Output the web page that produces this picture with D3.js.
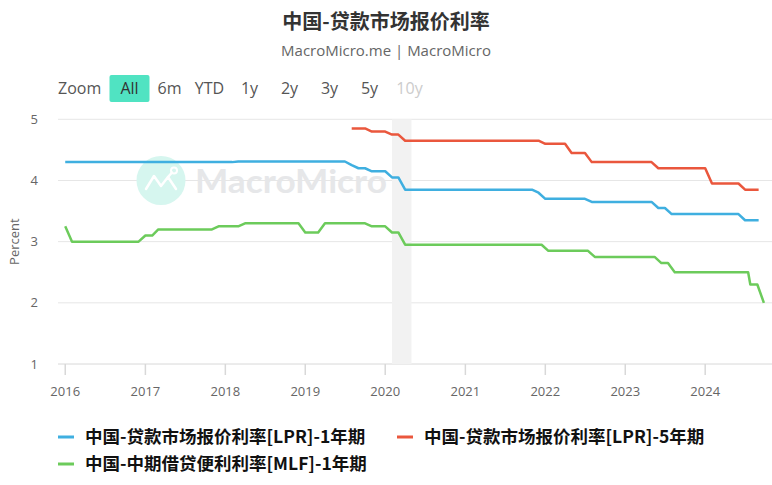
<!DOCTYPE html>
<html>
<head>
<meta charset="utf-8">
<script src="https://cdn.jsdelivr.net/npm/d3@7"></script>
<style>
  body { margin: 0; background: #fff; }
  text { font-family: "Open Sans", "Noto Sans CJK SC", sans-serif; }
</style>
</head>
<body>
<svg id="chart"></svg>
<script>
// LPR 1-year (monthly fixings, old LPR before Aug 2019)
const lpr1yDates = ["2016-01-01", "2018-02-01", "2018-03-01", "2019-07-01", "2019-08-01", "2019-09-01",
  "2019-10-01", "2019-11-01", "2020-01-01", "2020-02-01", "2020-03-01", "2020-04-01", "2021-11-01",
  "2021-12-01", "2022-01-01", "2022-07-01", "2022-08-01", "2023-05-01", "2023-06-01", "2023-07-01",
  "2023-08-01", "2024-06-01", "2024-07-01", "2024-09-01"];
const lpr1yValues = [4.30, 4.30, 4.31, 4.31, 4.25, 4.20, 4.20, 4.15, 4.15, 4.05, 4.05, 3.85, 3.85,
  3.80, 3.70, 3.70, 3.65, 3.65, 3.55, 3.55, 3.45, 3.45, 3.35, 3.35];

// LPR 5-year
const lpr5yDates = ["2019-08-01", "2019-10-01", "2019-11-01", "2020-01-01", "2020-02-01", "2020-03-01",
  "2020-04-01", "2021-12-01", "2022-01-01", "2022-04-01", "2022-05-01", "2022-07-01", "2022-08-01",
  "2023-05-01", "2023-06-01", "2024-01-01", "2024-02-01", "2024-06-01", "2024-07-01", "2024-09-01"];
const lpr5yValues = [4.85, 4.85, 4.80, 4.80, 4.75, 4.75, 4.65, 4.65, 4.60, 4.60, 4.45, 4.45, 4.30,
  4.30, 4.20, 4.20, 3.95, 3.95, 3.85, 3.85];

// MLF 1-year
const mlfDates = ["2016-01-01", "2016-02-01", "2016-12-01", "2017-01-01", "2017-02-01", "2017-03-01",
  "2017-11-01", "2017-12-01", "2018-03-01", "2018-04-01", "2018-12-01", "2019-01-01", "2019-03-01",
  "2019-04-01", "2019-10-01", "2019-11-01", "2020-01-01", "2020-02-01", "2020-03-01", "2020-04-01",
  "2021-12-15", "2022-01-15", "2022-07-15", "2022-08-15", "2023-05-15", "2023-06-15", "2023-07-15",
  "2023-08-15", "2024-07-15", "2024-07-25", "2024-08-26", "2024-09-25"];
const mlfValues = [3.25, 3.00, 3.00, 3.10, 3.10, 3.20, 3.20, 3.25, 3.25, 3.30, 3.30, 3.15, 3.15,
  3.30, 3.30, 3.25, 3.25, 3.15, 3.15, 2.95, 2.95, 2.85, 2.85, 2.75, 2.75, 2.65, 2.65, 2.50, 2.50,
  2.30, 2.30, 2.00];

const seriesNames = ["中国-贷款市场报价利率[LPR]-1年期", "中国-贷款市场报价利率[LPR]-5年期", "中国-中期借贷便利利率[MLF]-1年期"];
const seriesColors = ["#3fafe0", "#ea573d", "#6ccb5b"];
const bandDates = ["2020-02-01", "2020-04-30"];
const yTicks = [1, 2, 3, 4, 5];
const xTickYears = [2016, 2017, 2018, 2019, 2020, 2021, 2022, 2023, 2024];
const zoomButtons = ["All", "6m", "YTD", "1y", "2y", "3y", "5y", "10y"];

const parse = d3.timeParse("%Y-%m-%d");
const toPoints = (dates, values) => dates.map((d, i) => ({ date: parse(d), value: values[i] }));
const series = [
  toPoints(lpr1yDates, lpr1yValues),
  toPoints(lpr5yDates, lpr5yValues),
  toPoints(mlfDates, mlfValues),
];

const width = 772, height = 485;
const plot = { left: 58, right: 772, top: 119.3, bottom: 364 };

const svg = d3.select("#chart").attr("width", width).attr("height", height);

const x = d3.scaleTime()
  .domain([parse("2015-11-29"), parse("2024-11-01")])
  .range([plot.left, plot.right]);
const y = d3.scaleLinear().domain([1, 5]).range([plot.bottom, plot.top]);

// title
svg.append("text")
  .attr("x", 386).attr("y", 29)
  .attr("text-anchor", "middle")
  .style("font-family", '"Noto Sans CJK SC", sans-serif')
  .style("font-size", "20px").style("font-weight", "bold").attr("fill", "#333")
  .text("中国-贷款市场报价利率");
svg.append("text")
  .attr("x", 386).attr("y", 56)
  .attr("text-anchor", "middle")
  .style("font-size", "15px").attr("fill", "#666")
  .text("MacroMicro.me | MacroMicro");

// range selector
svg.append("text")
  .attr("x", 58).attr("y", 94)
  .style("font-size", "16px").attr("fill", "#555")
  .text("Zoom");
svg.append("rect")
  .attr("x", 109.5).attr("y", 75).attr("width", 40).attr("height", 27).attr("rx", 2)
  .attr("fill", "#50e3c2");
svg.selectAll(".btn").data(zoomButtons).join("text")
  .attr("class", "btn")
  .attr("x", (d, i) => 129.5 + i * 40).attr("y", 94)
  .attr("text-anchor", "middle")
  .style("font-size", "16px")
  .attr("fill", (d) => d === "10y" ? "#ccc" : d === "All" ? "#333" : "#555")
  .text((d) => d);

// gridlines
svg.append("g").selectAll("line").data(yTicks).join("line")
  .attr("x1", plot.left).attr("x2", plot.right)
  .attr("y1", (d) => y(d)).attr("y2", (d) => y(d))
  .attr("stroke", (d) => d === 1 ? "#d8d8d8" : "#e6e6e6").attr("stroke-width", 1);

// shaded band
svg.append("rect")
  .attr("x", x(parse(bandDates[0])))
  .attr("width", x(parse(bandDates[1])) - x(parse(bandDates[0])))
  .attr("y", plot.top).attr("height", plot.bottom - plot.top)
  .attr("fill", "#f2f2f2");

// watermark
const wm = svg.append("g");
wm.append("circle").attr("cx", 161).attr("cy", 180.5).attr("r", 24.5).attr("fill", "#d6f6ef");
wm.append("polyline")
  .attr("points", "146,189 154,176 161,186 168,177 176,189")
  .attr("fill", "none").attr("stroke", "#fff").attr("stroke-width", 2.5)
  .attr("stroke-linejoin", "round").attr("stroke-linecap", "round");
wm.append("line").attr("x1", 168).attr("y1", 177).attr("x2", 172).attr("y2", 172.5)
  .attr("stroke", "#fff").attr("stroke-width", 2.5).attr("stroke-linecap", "round");
wm.append("circle").attr("cx", 174).attr("cy", 170.5).attr("r", 3)
  .attr("fill", "none").attr("stroke", "#fff").attr("stroke-width", 2);
wm.append("text")
  .attr("x", 195).attr("y", 193)
  .attr("textLength", 192).attr("lengthAdjust", "spacingAndGlyphs")
  .style("font-family", "Lato, sans-serif")
  .style("font-size", "33px").style("font-weight", "bold").attr("fill", "#e6e7e9")
  .text("MacroMicro");

// x axis ticks and labels
const xAxis = svg.append("g");
xAxis.selectAll("line").data(xTickYears).join("line")
  .attr("x1", (d) => x(new Date(d, 0, 1))).attr("x2", (d) => x(new Date(d, 0, 1)))
  .attr("y1", plot.bottom).attr("y2", plot.bottom + 11)
  .attr("stroke", "#d8d8d8").attr("stroke-width", 1.5);
xAxis.selectAll("text").data(xTickYears).join("text")
  .attr("x", (d) => x(new Date(d, 0, 1))).attr("y", 396)
  .attr("text-anchor", "middle")
  .style("font-size", "13px").attr("fill", "#666")
  .text((d) => d);

// y axis labels
svg.append("g").selectAll("text").data(yTicks).join("text")
  .attr("x", 38).attr("y", (d) => y(d)).attr("dy", "0.35em")
  .attr("text-anchor", "end")
  .style("font-size", "13px").attr("fill", "#666")
  .text((d) => d);
svg.append("text")
  .attr("transform", `translate(19, ${y(3)}) rotate(-90)`)
  .attr("text-anchor", "middle")
  .style("font-size", "13px").attr("fill", "#666")
  .text("Percent");

// lines
const line = d3.line().x((d) => x(d.date)).y((d) => y(d.value));
svg.append("g").selectAll("path").data(series).join("path")
  .attr("d", line)
  .attr("fill", "none")
  .attr("stroke", (d, i) => seriesColors[i])
  .attr("stroke-width", 2.5)
  .attr("stroke-linejoin", "round");

// legend
const legendPos = [[58, 437], [397, 437], [58, 464]];
const legend = svg.append("g").selectAll("g").data(seriesNames).join("g")
  .attr("transform", (d, i) => `translate(${legendPos[i][0]},${legendPos[i][1]})`);
legend.append("line")
  .attr("x1", 0).attr("x2", 16).attr("y1", 0).attr("y2", 0)
  .attr("stroke", (d, i) => seriesColors[i]).attr("stroke-width", 3);
legend.append("text")
  .attr("x", 27).attr("y", 0).attr("dy", "0.36em")
  .style("font-family", '"Noto Sans CJK SC", sans-serif')
  .style("font-size", "17.5px").style("font-weight", "bold").attr("fill", "#111")
  .text((d) => d);
</script>
</body>
</html>
